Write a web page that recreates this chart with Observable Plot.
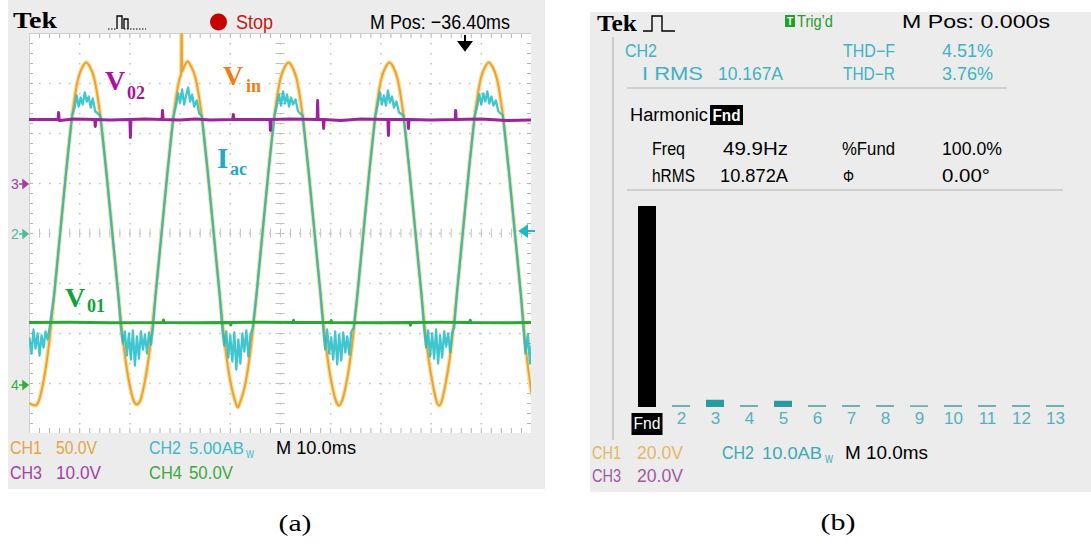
<!DOCTYPE html>
<html><head><meta charset="utf-8">
<script src="https://cdn.jsdelivr.net/npm/d3@7"></script>
<script src="https://cdn.jsdelivr.net/npm/@observablehq/plot@0.6"></script>
<style>
html,body{margin:0;padding:0;background:#fff;}
#root{position:relative;width:1091px;height:548px;overflow:hidden;background:#fff;}
.abs{position:absolute;}
</style></head><body><div id="root"></div>
<script>
// ---------- DATA ----------
// Scope channel settings (units per division) and ground-marker positions (divisions)
const chScale = [50, 5, 10, 50];          // CH1 V/div, CH2 A/div, CH3 V/div, CH4 V/div
const chGround = [0, 0, 1, -3];           // ground marker level in divisions
// Vin (CH1) : [time ms, volts]
const vin = [[0,-170],[1.2,-172],[1.8,-168],[2.5,-155],[3.7,-118],[4.9,-62],[6.1,0],[7.3,62],[8.5,118],[9.7,155],[10.6,167],[11.3,171],[12.0,167],[12.9,155],[14.1,118],[15.3,62],[16.5,0],[17.7,-62],[18.9,-118],[20.1,-155],[20.8,-168],[21.4,-171],[22.0,-168],[22.7,-155],[23.9,-118],[25.1,-62],[26.3,0],[27.5,62],[28.7,118],[29.9,155],[30.2,160],[30.3,215],[30.4,162],[30.8,167],[31.5,172],[32.2,167],[33.1,155],[34.3,118],[35.5,62],[36.7,0],[37.9,-62],[39.1,-118],[40.3,-155],[41.0,-168],[41.5,-174],[42.0,-168],[42.8,-155],[44.0,-118],[45.2,-62],[46.4,0],[47.6,62],[48.8,118],[50.0,155],[50.9,167],[51.6,171],[52.3,167],[53.2,155],[54.4,118],[55.6,62],[56.8,0],[58.0,-62],[59.2,-118],[60.4,-155],[61.1,-168],[61.6,-172],[62.2,-168],[62.9,-155],[64.1,-118],[65.3,-62],[66.5,0],[67.7,62],[68.9,118],[70.1,155],[71.0,167],[71.7,171],[72.4,167],[73.3,155],[74.5,118],[75.7,62],[76.9,0],[78.1,-62],[79.3,-118],[80.5,-155],[81.1,-168],[81.6,-172],[82.1,-168],[82.7,-155],[83.9,-118],[85.1,-62],[86.3,0],[87.5,62],[88.7,118],[89.9,155],[90.8,167],[91.5,171],[92.2,167],[93.1,155],[94.3,118],[95.5,62],[96.7,0],[97.9,-62],[99.1,-125],[100,-160]];
// Iac (CH2) : [time ms, amps]
const iac = [[0,-10.5],[0.4,-12.0],[0.8,-9.6],[1.2,-11.5],[1.6,-10.0],[2.0,-12.2],[2.4,-10.2],[2.8,-11.4],[3.2,-9.8],[3.6,-10.6],[4.0,-9.4],[4.9,-6.2],[6.1,0],[7.3,6.2],[8.5,11.8],[9.0,12.6],[9.4,13.8],[9.8,12.7],[10.2,13.6],[10.6,12.9],[11.0,14.1],[11.4,13.2],[11.8,13.7],[12.2,12.6],[12.6,13.5],[13.1,12.2],[13.6,12.0],[14.1,11.8],[15.3,6.2],[16.5,0],[17.7,-6.2],[18.2,-9.4],[18.6,-11.0],[19.0,-9.8],[19.4,-12.2],[19.8,-10.0],[20.2,-12.6],[20.6,-9.7],[21.0,-13.2],[21.4,-10.3],[21.8,-12.5],[22.2,-9.8],[22.6,-11.6],[23.0,-10.1],[23.4,-12.0],[23.8,-9.9],[24.2,-11.1],[24.6,-9.4],[25.1,-6.2],[26.3,0],[27.5,6.2],[28.7,11.8],[29.2,12.8],[29.6,14.0],[30.0,13.1],[30.4,14.4],[30.8,12.9],[31.2,13.8],[31.6,14.6],[32.0,13.2],[32.4,13.9],[32.8,12.7],[33.3,13.3],[33.8,12.0],[34.3,11.8],[35.5,6.2],[36.7,0],[37.9,-6.2],[38.4,-9.5],[38.8,-11.2],[39.2,-9.8],[39.6,-12.4],[40.0,-10.2],[40.4,-12.8],[40.8,-9.9],[41.2,-13.6],[41.6,-10.6],[42.0,-13.0],[42.4,-10.0],[42.8,-11.8],[43.2,-9.7],[43.6,-12.3],[44.0,-10.2],[44.5,-9.4],[45.2,-6.2],[46.4,0],[47.6,6.2],[48.8,11.8],[49.3,12.9],[49.7,13.9],[50.1,12.8],[50.5,14.2],[50.9,13.0],[51.3,13.9],[51.7,12.7],[52.1,13.6],[52.5,12.9],[53.0,13.4],[53.5,12.2],[54.4,11.8],[55.6,6.2],[56.8,0],[58.0,-6.2],[58.5,-9.4],[58.9,-11.6],[59.3,-9.6],[59.7,-12.0],[60.1,-10.4],[60.5,-12.6],[60.9,-9.8],[61.3,-13.1],[61.7,-10.1],[62.1,-12.7],[62.5,-9.9],[62.9,-11.9],[63.3,-10.3],[63.7,-12.1],[64.1,-9.8],[64.6,-9.4],[65.3,-6.2],[66.5,0],[67.7,6.2],[68.9,11.8],[69.4,13.0],[69.8,14.1],[70.2,12.9],[70.6,13.8],[71.0,12.8],[71.4,14.3],[71.8,13.1],[72.2,13.7],[72.6,12.6],[73.1,13.2],[73.6,12.1],[74.5,11.8],[75.7,6.2],[76.9,0],[78.1,-6.2],[78.6,-9.5],[79.0,-11.4],[79.4,-9.7],[79.8,-12.3],[80.2,-10.0],[80.6,-12.5],[81.0,-9.6],[81.4,-13.0],[81.8,-10.2],[82.2,-12.4],[82.6,-9.8],[83.0,-11.3],[83.4,-10.0],[83.8,-11.9],[84.2,-9.9],[84.6,-9.4],[85.1,-6.2],[86.3,0],[87.5,6.2],[88.7,11.8],[89.2,12.8],[89.6,13.9],[90.0,12.9],[90.4,14.0],[90.8,13.2],[91.2,14.2],[91.6,13.0],[92.0,13.7],[92.4,12.8],[92.9,13.3],[93.4,12.2],[94.3,11.8],[95.5,6.2],[96.7,0],[97.9,-6.2],[98.4,-9.5],[98.8,-12.0],[99.3,-10.1],[99.7,-13.0],[100,-11.2]];
// V02 (CH3) : [time ms, volts]
const v02 = [[0,12.8],[5.7,12.8],[5.8,14.2],[5.9,12.6],[9,12.9],[13.0,12.8],[13.1,11.4],[13.2,12.8],[16,12.7],[20.0,12.8],[20.1,9.2],[20.2,12.8],[23,12.9],[26.4,12.8],[26.5,14.6],[26.6,12.8],[30,12.7],[33,12.9],[36,12.7],[40.5,12.8],[40.6,13.8],[40.7,12.8],[47.9,12.8],[48.0,10.6],[48.1,12.8],[52,12.9],[57.3,12.8],[57.4,16.6],[57.5,12.8],[58.5,12.8],[58.6,11.0],[58.7,12.8],[62,12.6],[66,12.9],[71.4,12.8],[71.5,9.6],[71.6,12.8],[75.4,12.8],[75.5,11.0],[75.6,12.8],[80,12.7],[84.8,12.8],[84.9,14.6],[85.0,12.8],[90,12.9],[95,12.6],[100,12.7]];
// V01 (CH4) : [time ms, volts]
const v01 = [[0,61],[8,61.3],[16,60.8],[26.6,61],[26.7,63.5],[26.8,61],[33,60.7],[40.0,61],[40.1,58.5],[40.2,61],[47,61.2],[52.5,61],[52.6,63.2],[52.7,61],[60.0,61],[60.1,63],[60.2,61],[68,60.8],[75.8,61],[75.9,58.2],[76.0,61],[82,61.2],[87.7,61],[87.8,63.2],[87.9,61],[94,60.8],[100,61]];
// Harmonic spectrum (percent of fundamental)
const harmonics = ["Fnd","2","3","4","5","6","7","8","9","10","11","12","13"];
const harmPct = [100, 1.0, 3.6, 1.0, 3.1, 1.0, 1.0, 1.0, 0.9, 1.0, 1.0, 1.0, 1.0];

// ---------- LAYOUT ----------
const root = document.getElementById("root");
function box(x,y,w,h,bg){const d=document.createElement("div");d.className="abs";Object.assign(d.style,{left:x+"px",top:y+"px",width:w+"px",height:h+"px",background:bg});root.appendChild(d);return d;}
box(8,0,537,489,"#ececec");
box(590,12,501,480,"#ececec");

const SANS = "'Liberation Sans', Arial, sans-serif";
const SERIF = "'Liberation Serif', 'Times New Roman', serif";

// ---------- LEFT: oscilloscope traces ----------
const minorX = d3.range(0, 100.001, 2);
const minorY = d3.range(-4, 4.001, 0.2);
const majorX = d3.range(10, 100, 10);
const majorY = d3.range(-3, 4, 1);
const tx = d => d[0];
const left = Plot.plot({
  width: 502, height: 400, margin: 0,
  x: {domain: [0, 100], axis: null},
  y: {domain: [-4, 4], axis: null},
  style: {background: "white"},
  marks: [
    Plot.ruleY(majorY, {stroke: "#c4c4c4", strokeWidth: 1.6, strokeDasharray: "1.6,8.4"}),
    Plot.ruleX(majorX, {stroke: "#c4c4c4", strokeWidth: 1.6, strokeDasharray: "1.6,8.4"}),
    Plot.ruleX(minorX, {y1: -0.09, y2: 0.09, stroke: "#c2c2c2"}),
    Plot.ruleY(minorY, {x1: 49.1, x2: 50.9, stroke: "#c2c2c2"}),
    Plot.ruleX(minorX, {y1: 3.9, y2: 4, stroke: "#b4b4b4"}),
    Plot.ruleX(minorX, {y1: -4, y2: -3.9, stroke: "#b4b4b4"}),
    Plot.ruleY(minorY, {x1: 0, x2: 0.8, stroke: "#b4b4b4"}),
    Plot.ruleY(minorY, {x1: 99.2, x2: 100, stroke: "#b4b4b4"}),
    Plot.frame({stroke: "#cfcfcf"}),
    Plot.line(vin, {x: tx, y: d => d[1] / chScale[0] + chGround[0], stroke: "#f8e2a2", strokeWidth: 4.5, curve: "monotone-x", clip: true}),
    Plot.line(vin, {x: tx, y: d => d[1] / chScale[0] + chGround[0], stroke: "#e9a238", strokeWidth: 2, curve: "monotone-x", clip: true}),
    Plot.line(iac, {x: tx, y: d => d[1] / chScale[1] + chGround[1], stroke: "#1dbcc6", strokeWidth: 2.3, strokeOpacity: 0.85, clip: true}),
    Plot.line(v02, {x: tx, y: d => d[1] / chScale[2] + chGround[2], stroke: "#a0209e", strokeWidth: 3}),
    Plot.line(v01, {x: tx, y: d => d[1] / chScale[3] + chGround[3], stroke: "#2ba834", strokeWidth: 3})
  ]
});
Object.assign(left.style, {position: "absolute", left: "29px", top: "33px"});
root.appendChild(left);

// ---------- RIGHT: harmonic bars ----------
const harmData = harmonics.map((h, i) => ({h, p: harmPct[i]}));
const RX = 615, RY = 195;
const right = Plot.plot({
  width: 470, height: 245, marginLeft: 9, marginRight: 6, marginTop: 11, marginBottom: 33,
  x: {type: "band", domain: harmonics, paddingInner: 0.457, paddingOuter: 0.229, align: 0.5, axis: null},
  y: {domain: [0, 100], axis: null},
  style: {background: "transparent", fontFamily: SANS, overflow: "visible"},
  marks: [
    Plot.barY(harmData, {x: "h", y: "p", fill: d => d.h === "Fnd" ? "#000" : (d.p > 2 ? "#2b9ba0" : "#6fb0b6")}),
    Plot.text(harmonics.slice(1), {x: d => d, text: d => d, frameAnchor: "bottom", dy: 16, fontSize: 17, fill: "#52b2bb"})
  ]
});
Object.assign(right.style, {position: "absolute", left: RX + "px", top: RY + "px"});
root.appendChild(right);
const xsR = right.scale("x");
const ysR = right.scale("y");

// ---------- TEXT / DECORATION OVERLAY ----------
const NS = "http://www.w3.org/2000/svg";
const ov = document.createElementNS(NS, "svg");
ov.setAttribute("width", 1091); ov.setAttribute("height", 548);
Object.assign(ov.style, {position: "absolute", left: "0px", top: "0px"});
root.appendChild(ov);
function el(tag, attrs){const e=document.createElementNS(NS,tag);for(const k in attrs)e.setAttribute(k,attrs[k]);ov.appendChild(e);return e;}
function txt(str, x, y, o = {}) {
  const e = el("text", {x, y, fill: o.fill || "#000", "font-size": o.size || 17, "font-family": o.family || SANS,
    "font-weight": o.weight || "normal", "text-anchor": o.anchor || "start"});
  if (o.w) { e.setAttribute("textLength", o.w); e.setAttribute("lengthAdjust", "spacingAndGlyphs"); }
  e.textContent = str;
  return e;
}

// "Fnd" tick label (black box, white text) placed from the bar chart's x scale
{
  const cx = RX + xsR.apply("Fnd") + xsR.bandwidth / 2;
  const by = RY + ysR.apply(0);
  el("rect", {x: cx - 15.5, y: by + 6, width: 31, height: 22, fill: "#000"});
  txt("Fnd", cx, by + 22, {fill: "#fff", size: 16, anchor: "middle", w: 27});
}

// Left header
txt("Tek", 13, 28, {family: SERIF, weight: "bold", size: 24, w: 44});
el("path", {d: "M108 29H117M124 29H146", stroke: "#000", "stroke-width": 1.2, "stroke-dasharray": "1.5,1.5", fill: "none"});
el("path", {d: "M117 29V16H122V29M124 29V19H128V29", stroke: "#000", "stroke-width": 1.3, fill: "none"});
el("circle", {cx: 218.5, cy: 22, r: 8.5, fill: "#c40000"});
txt("Stop", 236, 29, {fill: "#c41a1a", size: 21, w: 37});
txt("M Pos: \u221236.40ms", 370, 29, {size: 21, w: 140});
el("path", {d: "M465 35V44M459 42L471 42L465 50Z", stroke: "#000", "stroke-width": 2, fill: "#000"});

// Left channel markers
txt("3", 11, 189, {fill: "#a040a0", size: 14});
el("path", {d: "M19 184H23M23 180L28 184L23 188Z", stroke: "#a040a0", fill: "#a040a0", "stroke-width": 1.5});
txt("2", 11, 239, {fill: "#5ab89a", size: 14});
el("path", {d: "M19 234H23M23 230L28 234L23 238Z", stroke: "#5ab89a", fill: "#5ab89a", "stroke-width": 1.5});
txt("4", 11, 390, {fill: "#3ea83e", size: 14});
el("path", {d: "M19 385H23M23 381L28 385L23 389Z", stroke: "#3ea83e", fill: "#3ea83e", "stroke-width": 1.5});
el("path", {d: "M535 231H527M527 226L520 231L527 236Z", stroke: "#1fb8c8", fill: "#1fb8c8", "stroke-width": 2});

// Trace labels
txt("V", 105, 90, {family: SERIF, weight: "bold", size: 28, fill: "#b0109e"});
txt("02", 127, 99, {family: SERIF, weight: "bold", size: 18, fill: "#b0109e"});
txt("V", 223, 85, {family: SERIF, weight: "bold", size: 28, fill: "#f07c12"});
txt("in", 246, 92, {family: SERIF, weight: "bold", size: 18, fill: "#f07c12"});
txt("I", 217, 168, {family: SERIF, weight: "bold", size: 29, fill: "#22a9c6"});
txt("ac", 230, 175, {family: SERIF, weight: "bold", size: 18, fill: "#22a9c6"});
txt("V", 65, 307, {family: SERIF, weight: "bold", size: 28, fill: "#13a13a"});
txt("01", 87, 312, {family: SERIF, weight: "bold", size: 18, fill: "#13a13a"});

// Left footer
txt("CH1", 10, 454, {fill: "#e5a443", size: 19, w: 32});
txt("50.0V", 56, 454, {fill: "#e5a443", size: 19, w: 41});
txt("CH2", 149, 454, {fill: "#3cb8c8", size: 19, w: 32});
txt("5.00AB", 189, 454, {fill: "#3cb8c8", size: 17, w: 55});
txt("W", 246, 458, {fill: "#3cb8c8", size: 10, w: 8});
txt("M 10.0ms", 276, 454, {size: 19, w: 80});
txt("CH3", 10, 479, {fill: "#a43fa6", size: 19, w: 32});
txt("10.0V", 56, 479, {fill: "#a43fa6", size: 19, w: 45});
txt("CH4", 149, 479, {fill: "#3ea83e", size: 19, w: 33});
txt("50.0V", 189, 479, {fill: "#3ea83e", size: 19, w: 44});
txt("(a)", 295, 531, {family: SERIF, size: 24, anchor: "middle", w: 33});

// Right header
txt("Tek", 597, 31, {family: SERIF, weight: "bold", size: 24, w: 40});
el("path", {d: "M643 31H652V16H662V31H675", stroke: "#000", "stroke-width": 1.4, fill: "none"});
el("rect", {x: 785, y: 15, width: 10, height: 12, fill: "#22a02a"});
txt("T", 790, 25, {fill: "#fff", size: 10, weight: "bold", anchor: "middle"});
txt("Trig\u2019d", 797, 27, {fill: "#2a9a2a", size: 17, w: 36});
txt("M Pos: 0.000s", 902, 28, {size: 19, w: 148});

// Right measurement block
el("line", {x1: 613, y1: 37, x2: 613, y2: 440, stroke: "#a8a8a8", "stroke-width": 1});
const C2 = "#40b2c2";
txt("CH2", 625, 57, {fill: C2, size: 18, w: 32});
txt("I RMS", 642, 80, {fill: C2, size: 18, w: 61});
txt("10.167A", 718, 80, {fill: C2, size: 18, w: 65});
txt("THD\u2212F", 843, 57, {fill: C2, size: 18, w: 52});
txt("4.51%", 942, 57, {fill: C2, size: 18, w: 51});
txt("THD\u2212R", 843, 80, {fill: C2, size: 18, w: 52});
txt("3.76%", 942, 80, {fill: C2, size: 18, w: 51});
el("line", {x1: 627, y1: 88, x2: 1007, y2: 88, stroke: "#b4b4b4", "stroke-width": 1.2});
txt("Harmonic", 630, 121, {size: 18, w: 78});
el("rect", {x: 710, y: 105, width: 33, height: 20, fill: "#000"});
txt("Fnd", 726.5, 121, {fill: "#fff", size: 16, anchor: "middle", w: 28, weight: "bold"});
txt("Freq", 652, 155, {size: 19, w: 33});
txt("49.9Hz", 723, 155, {size: 19, w: 65});
txt("%Fund", 842, 155, {size: 19, w: 53});
txt("100.0%", 942, 155, {size: 19, w: 60});
txt("hRMS", 652, 182, {size: 19, w: 43});
txt("10.872A", 720, 182, {size: 19, w: 68});
txt("\u03A6", 843, 182, {size: 17, w: 11});
txt("0.00\u00B0", 942, 182, {size: 19, w: 48});
el("line", {x1: 627, y1: 190, x2: 1063, y2: 190, stroke: "#b4b4b4", "stroke-width": 1.2});

// Right footer
txt("CH1", 592, 459, {fill: "#e2b766", size: 19, w: 29});
txt("20.0V", 637, 459, {fill: "#e2b766", size: 19, w: 46});
txt("CH2", 722, 459, {fill: "#3aa9b5", size: 19, w: 32});
txt("10.0AB", 762, 459, {fill: "#3aa9b5", size: 17, w: 60});
txt("W", 825, 463, {fill: "#3aa9b5", size: 10, w: 8});
txt("M 10.0ms", 845, 459, {size: 19, w: 83});
txt("CH3", 592, 482, {fill: "#a05aa0", size: 19, w: 29});
txt("20.0V", 637, 482, {fill: "#a05aa0", size: 19, w: 46});
txt("(b)", 838, 530, {family: SERIF, size: 24, anchor: "middle", w: 35});
</script></body></html>
